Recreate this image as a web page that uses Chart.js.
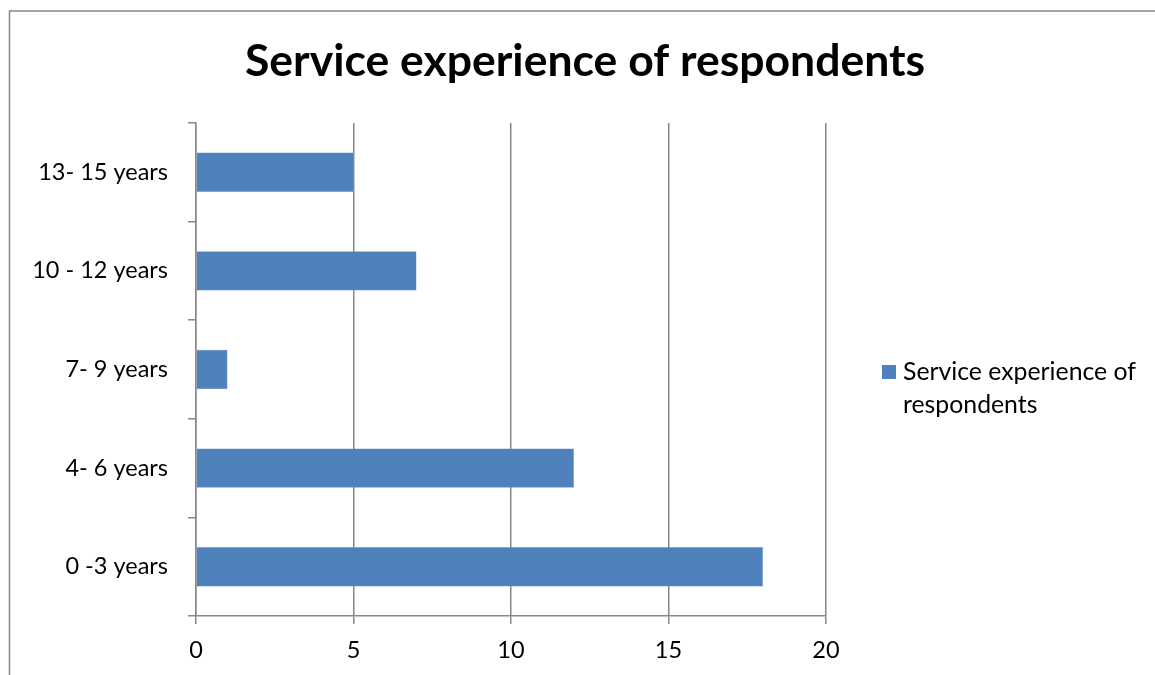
<!DOCTYPE html>
<html>
<head>
<meta charset="utf-8">
<script src="https://cdn.jsdelivr.net/npm/chart.js@4/dist/chart.umd.min.js"></script>
<style>
  html, body { margin: 0; padding: 0; background: #fff; }
  #wrap { width: 1155px; height: 675px; position: relative; }
</style>
</head>
<body>
<div id="wrap"><canvas id="c" width="1155" height="675"></canvas></div>
<script>
// Years of service, bottom to top
const categories = ['0 -3 years', '4- 6 years', '7- 9 years', '10 - 12 years', '13- 15 years'];
const respondents = [18, 12, 1, 7, 5];
const seriesName = 'Service experience of respondents';
const legendLines = ['Service experience of', 'respondents'];
const xTicks = [0, 5, 10, 15, 20];

const FONT = 'Lato, "Open Sans", sans-serif';
const BAR = '#4F81BD';
const AXIS = '#878787';

// Outer frame, centred title and a two-line legend entry on the right
const frameTitleLegend = {
  id: 'frameTitleLegend',
  afterDraw(chart) {
    const ctx = chart.ctx;
    ctx.save();
    ctx.strokeStyle = AXIS;
    ctx.lineWidth = 1.5;
    ctx.beginPath();
    ctx.moveTo(9.5, 675);
    ctx.lineTo(9.5, 11);
    ctx.lineTo(1155, 11);
    ctx.stroke();

    ctx.fillStyle = '#000';
    ctx.font = 'bold 44.5px ' + FONT;
    ctx.textAlign = 'center';
    ctx.textBaseline = 'middle';
    ctx.fillText(seriesName, 585, 62);

    const ds = chart.data.datasets[0];
    const lx = chart.chartArea.right + 56;
    const ly = 372;
    ctx.fillStyle = ds.backgroundColor;
    ctx.fillRect(lx, ly - 7, 14, 14);
    ctx.fillStyle = '#000';
    ctx.font = '24.8px ' + FONT;
    ctx.textBaseline = 'middle';
    ctx.textAlign = 'left';
    legendLines.forEach((t, i) => ctx.fillText(t, lx + 21, ly + i * 33));
    ctx.restore();
  }
};

new Chart(document.getElementById('c'), {
  type: 'bar',
  data: {
    labels: categories,
    datasets: [{
      label: seriesName,
      data: respondents,
      backgroundColor: BAR,
      borderColor: '#6A97CF',
      borderWidth: 0.5,
      barPercentage: 0.4,
      categoryPercentage: 1.0
    }]
  },
  options: {
    indexAxis: 'y',
    responsive: false,
    animation: false,
    layout: { padding: { left: 0, right: 329, top: 123, bottom: 0 } },
    plugins: {
      legend: { display: false },
      tooltip: { enabled: false },
      title: { display: false }
    },
    scales: {
      x: {
        min: 0,
        max: 20,
        afterBuildTicks(scale) { scale.ticks = xTicks.map(v => ({ value: v })); },
        afterFit(scale) { scale.height = 59; },
        border: { display: true, color: AXIS, width: 1.5 },
        grid: { color: AXIS, lineWidth: 1.5, tickLength: 8, drawTicks: true },
        ticks: { color: '#000', padding: 12, font: { family: FONT, size: 23.5 } }
      },
      y: {
        reverse: true,
        offset: true,
        afterFit(scale) { scale.width = 196; },
        border: { display: true, color: AXIS, width: 1.5 },
        grid: { offset: true, drawOnChartArea: false, drawTicks: true, tickLength: 8, color: AXIS, lineWidth: 1.5 },
        ticks: { color: '#000', padding: 20, font: { family: FONT, size: 23.5 } }
      }
    }
  },
  plugins: [frameTitleLegend]
});
</script>
</body>
</html>
